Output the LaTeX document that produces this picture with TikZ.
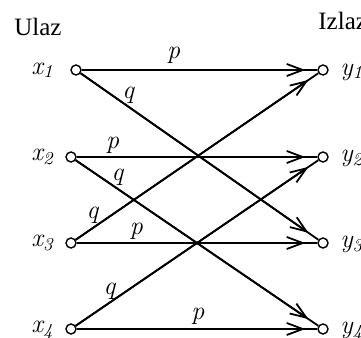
\documentclass[tikz,border=0pt]{standalone}
\usepackage{fontspec}
\setmainfont{Liberation Serif}
\newfontfamily\gainfont{Latin Modern Roman}
\usepackage{tikz}
\usetikzlibrary{
arrows.meta,
positioning
}
\tikzset{
sigport/.style={circle, draw, fill=white, inner sep=0pt, minimum size=5pt, line width=0.7pt},
sighead/.style={font=\fontsize{12.5}{15}\selectfont, inner sep=0pt, anchor=base west},
siglabel/.style={font=\fontsize{13}{15}\selectfont\gainfont\itshape, inner sep=0pt, anchor=base west},
siggain/.style={font=\fontsize{13}{15}\selectfont\gainfont\itshape, inner sep=1pt},
sigarrow/.style={line width=0.9pt,
  postaction={draw, -{Straight Barb[length=8pt, width=6pt]}, shorten >=6pt}}
}

\begin{document}
\begin{tikzpicture}[x=0.5pt, y=-0.5pt]
\useasboundingbox (0,0) rectangle (361,338);

\node[sighead] (ulaz) at (14,35) {Ulaz};
\node[sighead] (izlaz) at (318,29) {Izlaz};

\node[sigport] (x1) at (76,70) {};
\node[sigport] (x2) at (71,157) {};
\node[sigport] (x3) at (71,243) {};
\node[sigport] (x4) at (71,329) {};
\node[sigport] (y1) at (323,70) {};
\node[sigport] (y2) at (323,157) {};
\node[sigport] (y3) at (323,243) {};
\node[sigport] (y4) at (323,329) {};

\node[siglabel] (lx1) at (31,74) {x\textsubscript{1}};
\node[siglabel] (lx2) at (31,161) {x\textsubscript{2}};
\node[siglabel] (lx3) at (31,247) {x\textsubscript{3}};
\node[siglabel] (lx4) at (31,333) {x\textsubscript{4}};
\node[siglabel] (ly1) at (340,75) {y\textsubscript{1}};
\node[siglabel] (ly2) at (340,162) {y\textsubscript{2}};
\node[siglabel] (ly3) at (340,248) {y\textsubscript{3}};
\node[siglabel] (ly4) at (340,334) {y\textsubscript{4}};

\draw[sigarrow] (x1) -- node[siggain, pos=0.39, above=2pt] {p} (y1);
\draw[sigarrow] (x2) -- node[siggain, pos=0.149, above=0.3pt] {p} (y2);
\draw[sigarrow] (x3) -- node[siggain, pos=0.248, above=0.5pt] {p} (y3);
\draw[sigarrow] (x4) -- node[siggain, pos=0.504, above=1pt] {p} (y4);

\draw[sigarrow] (x1) -- node[siggain, pos=0.2, above] {q} (y3);
\draw[sigarrow] (x2) -- node[siggain, pos=0.172, above] {q} (y4);
\draw[sigarrow] (x3) -- node[siggain, pos=0.069, above=1pt] {q} (y1);
\draw[sigarrow] (x4) -- node[siggain, pos=0.139, above] {q} (y2);
\end{tikzpicture}
\end{document}
